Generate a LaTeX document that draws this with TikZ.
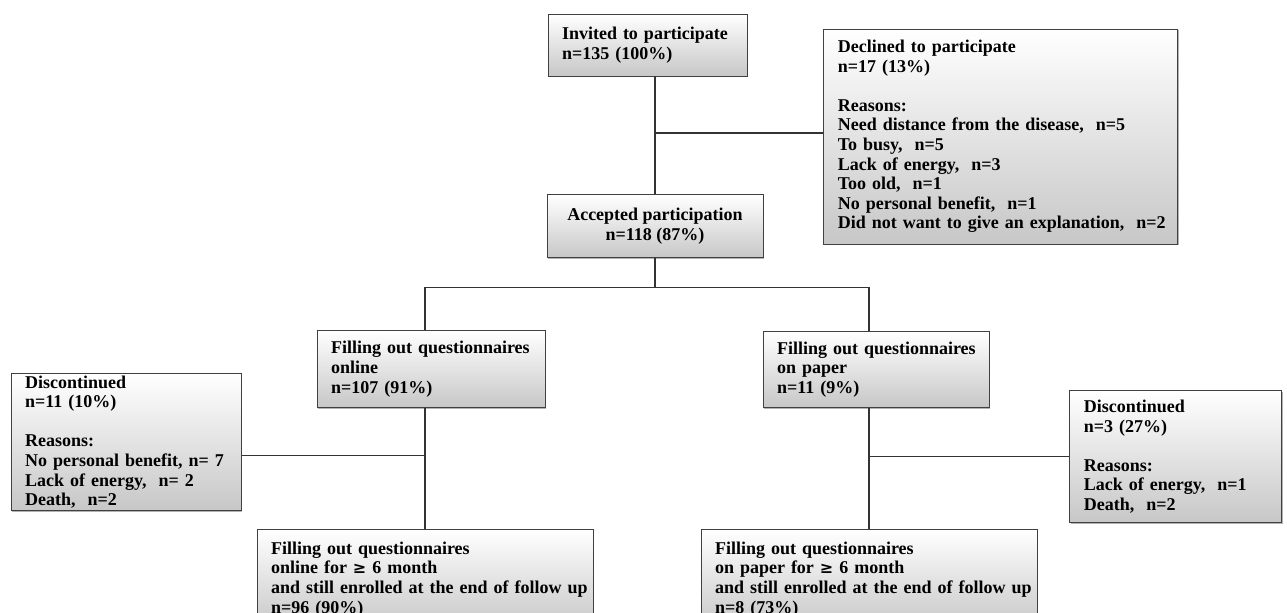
\documentclass[tikz,border=0pt]{standalone}
\usepackage{fontspec}
\setmainfont{Liberation Serif}
\newfontfamily\symfont{DejaVu Serif}
\usepackage{xcolor}
\usetikzlibrary{positioning, shadows}

\newcommand{\atleast}{{\symfont\bfseries\fontsize{8}{9.8}\selectfont≥}}

\begin{document}
\begin{tikzpicture}[
    node distance=0.5cm,
    box/.style={rectangle, draw=black!75, top color=white, bottom color=black!22, inner xsep=7pt, inner ysep=1pt, align=center, font=\fontsize{9}{9.8}\selectfont\bfseries, drop shadow={shadow xshift=0.6pt, shadow yshift=-0.6pt, fill=black!60, opacity=0.5}},
    lbox/.style={box, inner xsep=1pt, align=left, execute at begin node={\leftskip=6pt}},
    link/.style={draw=black!80, line width=0.6pt}
]
    \useasboundingbox (0,0) rectangle (643.5pt,-306.5pt);

    % Enrolment
    \node (invited) [lbox, text width=97.5pt, minimum height=31pt] at (323.75pt,-22.5pt) {Invited to participate\\n=135 (100\%)};
    \node (declined) [lbox, text width=175pt, minimum height=107.5pt, right=38pt of invited.north east, anchor=north west, yshift=-7.5pt] {Declined to participate\\n=17 (13\%)\\[9.8pt]Reasons:\\Need distance from the disease,\ \ n=5\\To busy,\ \ n=5\\Lack of energy,\ \ n=3\\Too old,\ \ n=1\\No personal benefit,\ \ n=1\\Did not want to give an explanation,\ \ n=2};
    \node (accepted) [box, minimum width=108pt, minimum height=31.5pt, below=59pt of invited, xshift=3.75pt] {Accepted participation\\n=118 (87\%)};

    % Online / paper
    \node (online) [lbox, text width=112pt, minimum height=38.5pt, below=36pt of accepted, xshift=-112pt] {Filling out questionnaires\\online\\n=107 (91\%)};
    \node (paper) [lbox, text width=111pt, minimum height=38pt, below=36.5pt of accepted, xshift=110.5pt] {Filling out questionnaires\\on paper\\n=11 (9\%)};

    % Drop-outs
    \node (discL) [lbox, text width=113pt, minimum height=66.5pt, left=37.5pt of online, yshift=-36.5pt] {Discontinued\\n=11 (10\%)\\[9.8pt]Reasons:\\No personal benefit, n= 7\\Lack of energy,\ \ n= 2\\Death,\ \ n=2};
    \node (discR) [lbox, text width=104pt, minimum height=66pt, right=40pt of paper, yshift=-43.5pt] {Discontinued\\n=3 (27\%)\\[9.8pt]Reasons:\\Lack of energy,\ \ n=1\\Death,\ \ n=2};

    % End of follow up
    \node (finalO) [lbox, text width=166pt, minimum height=50pt, below=60.5pt of online, xshift=-3pt] {Filling out questionnaires\\online for \atleast{} 6 month\\and still enrolled at the end of follow up\\n=96 (90\%)};
    \node (finalP) [lbox, text width=166pt, minimum height=50pt, below=60.5pt of paper, xshift=-3.5pt] {Filling out questionnaires\\on paper for \atleast{} 6 month\\and still enrolled at the end of follow up\\n=8 (73\%)};

    % Lines
    \coordinate (split) at ([yshift=1.75pt]declined.west -| accepted.north);
    \draw[link] (accepted.north |- invited.south) -- (accepted.north);
    \draw[link] (split) -- (split -| declined.west);

    \coordinate (branch) at ([yshift=-14.5pt]accepted.south);
    \draw[link] (accepted.south) -- (branch);
    \draw[link] (branch -| finalO.north) -- (branch -| finalP.north);
    \draw[link] (branch -| finalO.north) -- (finalO.north |- online.north);
    \draw[link] (branch -| finalP.north) -- (finalP.north |- paper.north);

    \draw[link] (finalO.north |- online.south) -- (finalO.north);
    \draw[link] ([yshift=-6.75pt]discL.east) -- ([yshift=-6.75pt]discL.east -| finalO.north);
    \draw[link] (finalP.north |- paper.south) -- (finalP.north);
    \draw[link] (discR.west) -- (discR.west -| finalP.north);

\end{tikzpicture}
\end{document}
